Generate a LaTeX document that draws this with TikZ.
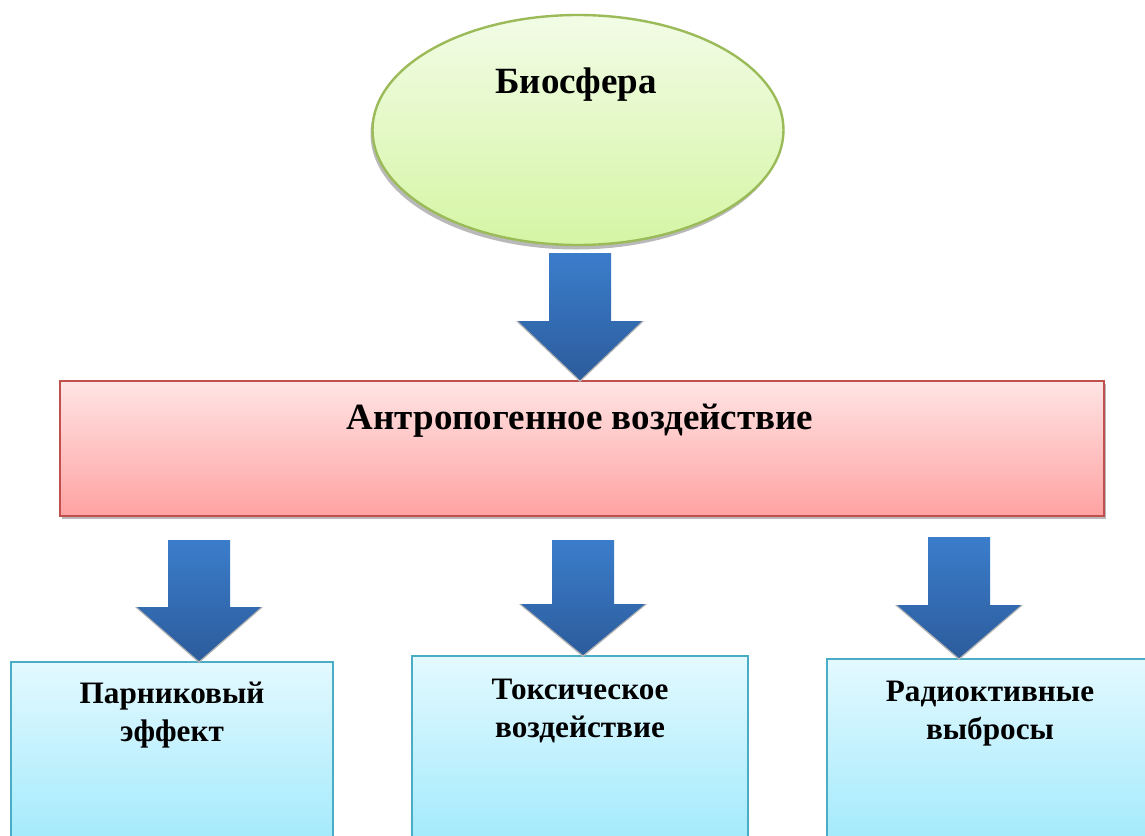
\documentclass[tikz,border=0pt]{standalone}
\usepackage{fontspec}
\setmainfont{Liberation Serif}
\usetikzlibrary{positioning, calc}
\usetikzlibrary{shapes.geometric}
\definecolor{biotop}{HTML}{F2FCE6}
\definecolor{biobot}{HTML}{D5F5A4}
\definecolor{bioline}{HTML}{9BBB59}
\definecolor{redtop}{HTML}{FFE4E4}
\definecolor{redbot}{HTML}{FFA2A2}
\definecolor{redline}{HTML}{C0504D}
\definecolor{bluetop}{HTML}{E3F9FF}
\definecolor{bluebot}{HTML}{A2EAFC}
\definecolor{blueline}{HTML}{4BACC6}
\definecolor{arrtop}{HTML}{3B7DCB}
\definecolor{arrbot}{HTML}{2C5C9C}
\tikzset{
    bio/.style={ellipse, draw=bioline, line width=1.2pt, top color=biotop, bottom color=biobot,
        minimum width=205.5pt, minimum height=115pt, inner sep=0pt},
    redbox/.style={rectangle, draw=redline, line width=1pt, top color=redtop, bottom color=redbot,
        minimum width=522pt, minimum height=67.5pt, inner sep=0pt},
    bluebox/.style={rectangle, draw=blueline, line width=1pt, top color=bluetop, bottom color=bluebot,
        inner sep=0pt},
    bigtext/.style={font=\fontsize{18.5}{22}\selectfont\bfseries},
    smalltext/.style={font=\fontsize{15.6}{19}\selectfont\bfseries, align=center}
}
\newcommand{\blockarrow}[3]{
    \coordinate (bt) at (#1);
    \coordinate (bp) at (#1 |- #2);
    \fill[gray!60] ($(bp)+(-64,-#3)$) -- ($(bp)+(0,2)$) -- ($(bp)+(64,-#3)$) -- cycle;
    \shade[top color=arrtop, bottom color=arrbot]
        ($(bt)+(-31,0)$) -- ($(bt)+(31,0)$) -- ($(bp)+(31,-#3)$) -- ($(bp)+(62,-#3)$)
        -- (bp) -- ($(bp)+(-62,-#3)$) -- ($(bp)+(-31,-#3)$) -- cycle;
}

\begin{document}
\begin{tikzpicture}[x=0.5pt, y=-0.5pt]
    \useasboundingbox (0,0) rectangle (1145,835);
    \clip (0,0) rectangle (1145,835);

    % shadows
    \fill[gray!55] (576,134) ellipse (205.5 and 115.5);
    \fill[gray!55] (62,384) rectangle (1106,519);

    \node[bio] (bio) at (578,130) {};
    \node[bigtext] (biot) at (576,85) {Биосфера};

    \node[redbox] (anthro) at (582,448.5) {};
    \node[bigtext] (anthrot) at (580,421) {Антропогенное воздействие};

    \node[bluebox, minimum width=161pt, minimum height=91.5pt] (box1) at (172,753.5) {};
    \node[bluebox, minimum width=168pt, minimum height=94.5pt] (box2) at (580,750.5) {};
    \node[bluebox, minimum width=161.5pt, minimum height=93pt] (box3) at (988.5,752) {};

    \node[smalltext] (box1t) at (172,715) {Парниковый\\эффект};
    \node[smalltext] (box2t) at (580,711) {Токсическое\\воздействие};
    \node[smalltext] (box3t) at (990,714) {Радиоктивные\\выбросы};

    % arrows
    \coordinate (a0) at (580,253);
    \coordinate (a1) at (199,540);
    \coordinate (a2) at (583,540);
    \coordinate (a3) at (959,537);
    \blockarrow{a0}{anthro.north}{59}
    \blockarrow{a1}{box1.north}{54}
    \blockarrow{a2}{box2.north}{51}
    \blockarrow{a3}{box3.north}{53}
\end{tikzpicture}
\end{document}
